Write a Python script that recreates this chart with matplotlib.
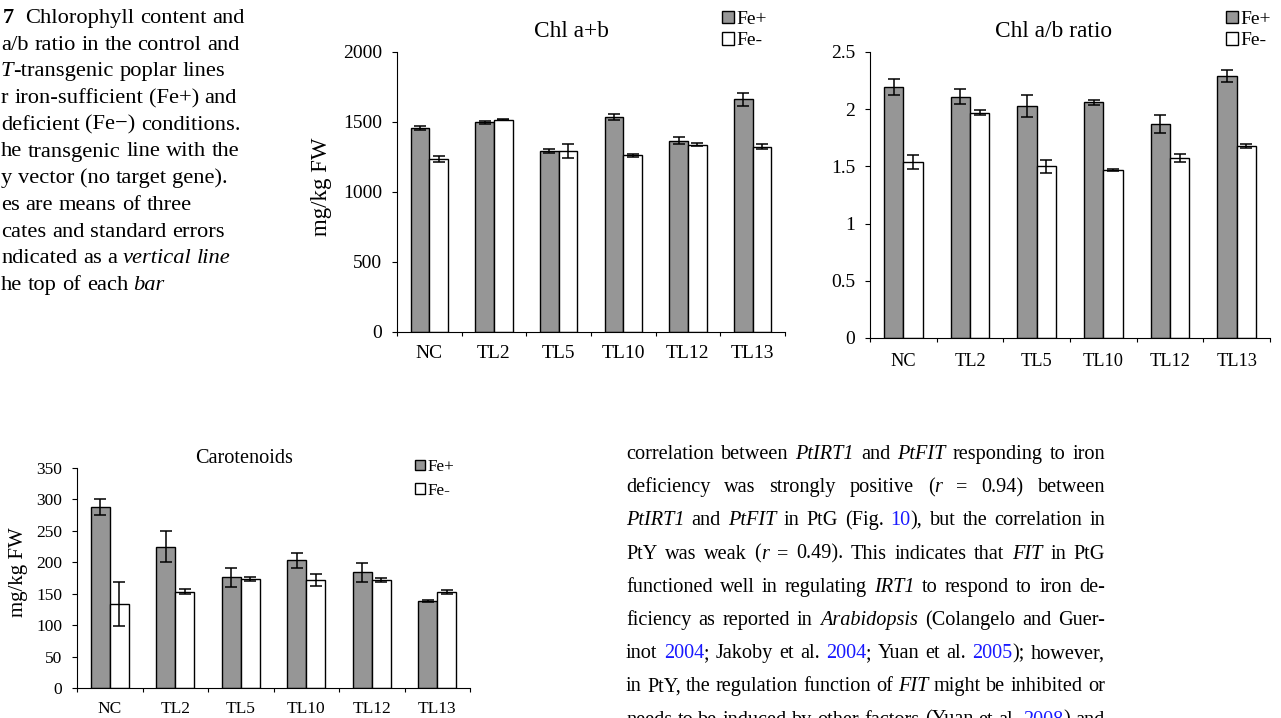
import re
import numpy as np
import matplotlib
matplotlib.use('Agg')
import matplotlib.pyplot as plt
from matplotlib.patches import Patch

# image size in pixels (dpi 100)
W, H = 1281, 718

cats = ['NC', 'TL2', 'TL5', 'TL10', 'TL12', 'TL13']
legend_labels = ['Fe+', 'Fe-']

# Chl a+b (mg/kg FW)
chl_plus = [1457, 1498, 1293, 1536, 1367, 1662]
chl_plus_se = [15, 10, 15, 20, 27, 45]
chl_minus = [1236, 1517, 1293, 1262, 1338, 1324]
chl_minus_se = [20, 5, 50, 12, 12, 20]

# Chl a/b ratio
ratio_plus = [2.19, 2.11, 2.03, 2.06, 1.87, 2.29]
ratio_plus_se = [0.07, 0.065, 0.095, 0.02, 0.08, 0.05]
ratio_minus = [1.54, 1.97, 1.50, 1.47, 1.57, 1.68]
ratio_minus_se = [0.06, 0.02, 0.055, 0.01, 0.035, 0.02]

# Carotenoids (mg/kg FW)
car_plus = [288, 225, 176, 203, 184, 138]
car_plus_se = [13, 24, 15, 12, 15, 1.5]
car_minus = [133, 153, 174, 172, 172, 153]
car_minus_se = [35, 4, 3, 10, 3, 3]

caption = [
    "[7]  Chlorophyll content and",
    "a/b ratio in the control and",
    "*T*-transgenic poplar lines",
    "r iron-sufficient (Fe+) and",
    "deficient (Fe\u2212) conditions.",
    "he transgenic line with the",
    "y vector (no target gene).",
    "es are means of three",
    "cates and standard errors",
    "ndicated as a *vertical* *line*",
    "he top of each *bar*",
]

body = [
    "correlation between *PtIRT1* and *PtFIT* responding to iron",
    "deficiency was strongly positive (*r* = 0.94) between",
    "*PtIRT1* and *PtFIT* in PtG (Fig. {10}), but the correlation in",
    "PtY was weak (*r* = 0.49). This indicates that *FIT* in PtG",
    "functioned well in regulating *IRT1* to respond to iron de-",
    "ficiency as reported in *Arabidopsis* (Colangelo and Guer-",
    "inot {2004}; Jakoby et al. {2004}; Yuan et al. {2005}); however,",
    "in PtY, the regulation function of *FIT* might be inhibited or",
    "needs to be induced by other factors (Yuan et al. {2008}) and",
]

GREY = '#969696'
LINK = '#1a1aff'

plt.rcParams['font.family'] = ['Liberation Serif', 'DejaVu Serif']

fig = plt.figure(figsize=(W / 100, H / 100), dpi=100)
renderer = fig.canvas.get_renderer()


def px(x, y):
    return x / W, 1 - y / H


def panel(box, plus, plus_se, minus, minus_se, ymax, ystep, tick_size, cat_size, cat_pad):
    l, t, r, b = box
    ax = fig.add_axes([l / W, 1 - b / H, (r - l) / W, (b - t) / H])
    x = np.arange(len(cats))
    bw = 0.29
    ax.bar(x - bw / 2, plus, bw, color=GREY, edgecolor='black', linewidth=1.0, zorder=2)
    ax.bar(x + bw / 2, minus, bw, color='white', edgecolor='black', linewidth=1.0, zorder=2)
    ax.errorbar(x - bw / 2, plus, yerr=plus_se, fmt='none', ecolor='black',
                elinewidth=1.1, capsize=4.3, capthick=1.1, zorder=3)
    ax.errorbar(x + bw / 2, minus, yerr=minus_se, fmt='none', ecolor='black',
                elinewidth=1.1, capsize=4.3, capthick=1.1, zorder=3)
    ax.set_xlim(-0.5, len(cats) - 0.5)
    ax.set_ylim(0, ymax)
    ax.set_yticks(np.arange(0, ymax + ystep / 2, ystep))
    ax.yaxis.set_major_formatter(lambda v, p: f'{v:g}')
    bounds = np.arange(len(cats) + 1) - 0.5
    ax.set_xticks(bounds, labels=[''] * len(bounds))
    ax.set_xticks(x, labels=cats, minor=True)
    ax.tick_params(axis='x', which='minor', length=0, pad=cat_pad, labelsize=cat_size)
    ax.tick_params(axis='x', which='major', length=3, width=0.8, direction='out')
    ax.tick_params(axis='y', length=3.5, width=0.8, pad=7, labelsize=tick_size)
    for s in ['top', 'right']:
        ax.spines[s].set_visible(False)
    for s in ['left', 'bottom']:
        ax.spines[s].set_linewidth(0.8)
    return ax


def add_legend(ax, x, y, size, spacing):
    handles = [Patch(facecolor=GREY, edgecolor='black', linewidth=1.0),
               Patch(facecolor='white', edgecolor='black', linewidth=1.0)]
    ax.legend(handles, legend_labels, loc='upper left', bbox_to_anchor=px(x, y),
              bbox_transform=fig.transFigure, frameon=False, fontsize=size,
              handlelength=0.6, handleheight=0.6, handletextpad=0.15,
              labelspacing=spacing, borderpad=0, borderaxespad=0)


ax1 = panel((397, 52, 785, 332), chl_plus, chl_plus_se, chl_minus, chl_minus_se,
            2000, 500, 14, 14, 9)
add_legend(ax1, 722, 11, 14, 0.22)
fig.text(*px(571, 37), 'Chl a+b', fontsize=16.8, ha='center', va='baseline')
fig.text(*px(322, 187), 'mg/kg FW', fontsize=16.5, rotation=90, ha='center', va='center')

ax2 = panel((870, 52, 1270, 338), ratio_plus, ratio_plus_se, ratio_minus, ratio_minus_se,
            2.5, 0.5, 14, 13.2, 11)
add_legend(ax2, 1226, 11, 14, 0.22)
fig.text(*px(1054, 37), 'Chl a/b ratio', fontsize=16.8, ha='center', va='baseline')

ax3 = panel((77, 468, 470, 688), car_plus, car_plus_se, car_minus, car_minus_se,
            350, 50, 12.5, 12.5, 9.5)
add_legend(ax3, 415, 459, 12.3, 0.45)
fig.text(*px(244, 463), 'Carotenoids', fontsize=14.6, ha='center', va='baseline')
fig.text(*px(19, 572), 'mg/kg FW', fontsize=15, rotation=90, ha='center', va='center')


def word_parts(word):
    parts = []
    for seg in re.findall(r'\*[^*]*\*|\{[^}]*\}|\[[^\]]*\]|[^*{\[]+', word):
        style, weight, color = 'normal', 'normal', 'black'
        if seg.startswith('*'):
            style, seg = 'italic', seg[1:-1]
        elif seg.startswith('{'):
            color, seg = LINK, seg[1:-1]
        elif seg.startswith('['):
            weight, seg = 'bold', seg[1:-1]
        parts.append((seg, style, weight, color))
    return parts


def draw_line(line, x0, y, size, x1=None):
    words = line.split() if x1 else line.split(' ')
    items = []
    for w in words:
        texts = []
        for seg, style, weight, color in word_parts(w):
            t = fig.text(0, 0, seg, fontsize=size, style=style, weight=weight,
                         color=color, ha='left', va='baseline')
            texts.append((t, t.get_window_extent(renderer).width))
        items.append(texts)
    widths = [sum(wd for _, wd in it) for it in items]
    space = size * 100 / 72 * 0.25
    if x1 is not None and len(items) > 1:
        space = (x1 - x0 - sum(widths)) / (len(items) - 1)
    x = x0
    for it in items:
        for t, wd in it:
            t.set_position(px(x, y))
            x += wd
        x += space


for i, line in enumerate(caption):
    draw_line(line, 3 if i == 0 else 1, 23 + 26.7 * i, 16.2)

for i, line in enumerate(body):
    draw_line(line, 626, 459 + 33.2 * i, 14.6, x1=1105)

fig.savefig('out.png', dpi=100)
